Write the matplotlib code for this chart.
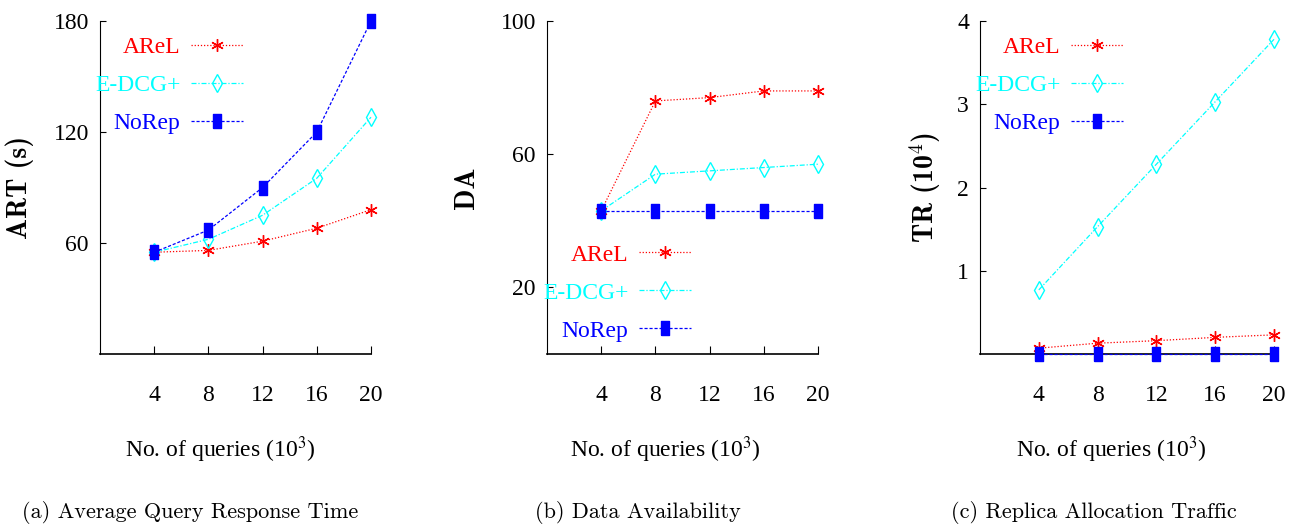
import numpy as np
import matplotlib
matplotlib.use("Agg")
import matplotlib.pyplot as plt

plt.rcParams['mathtext.fontset'] = 'stix'

queries = [4, 8, 12, 16, 20]
series_names = ["AReL", "E-DCG+", "NoRep"]

art_arel = [55, 56, 61, 68, 78]
art_edcg = [55, 62, 75, 95, 128]
art_norep = [55, 67, 90, 120, 180]

da_arel = [43, 76, 77, 79, 79]
da_edcg = [43, 54, 55, 56, 57]
da_norep = [43, 43, 43, 43, 43]

tr_arel = [0.07, 0.13, 0.16, 0.20, 0.23]
tr_edcg = [0.77, 1.53, 2.28, 3.03, 3.78]
tr_norep = [0, 0, 0, 0, 0]

ylabels = ["ART (s)", "DA", "TR (10$^4$)"]
yticks = [[60, 120, 180], [20, 60, 100], [1, 2, 3, 4]]
ylims = [(0, 180), (0, 100), (0, 4)]
captions = ["(a) Average Query Response Time", "(b) Data Availability",
            "(c) Replica Allocation Traffic"]

colors = ["#ff0000", "#00ffff", "#0000ff"]
styles = [(0, (1, 1.5)), (0, (4, 1.5, 1, 1.5)), (0, (2.5, 1.5))]
rect = [(-0.55, -1), (0.55, -1), (0.55, 1), (-0.55, 1), (-0.55, -1)]
markers = [(6, 2, 0), "d", rect]
mfc = ["#ff0000", "none", "#0000ff"]
msizes = [9, 9, 9.5]

W, H = 1297, 525
fig = plt.figure(figsize=(W / 100, H / 100), dpi=100)

# axes boxes in pixels: left, right, top, bottom
boxes = [(100, 371, 21, 354), (547, 818, 21, 354), (980, 1274, 21, 354)]
data = [[art_arel, art_edcg, art_norep],
        [da_arel, da_edcg, da_norep],
        [tr_arel, tr_edcg, tr_norep]]
leg_pos = [(0.528, 0.954, "upper right"), (0.531, 0.037, "lower right"),
           (0.486, 0.954, "upper right")]
xlab_x = [0.443, 0.435, 0.446]
ylab_x = [-0.295, -0.295, -0.187]
cap_x = [190, 638, 1094]

serif = "Liberation Serif"

for i, (l, r, t, b) in enumerate(boxes):
    ax = fig.add_axes([l / W, (H - b) / H, (r - l) / W, (b - t) / H])
    handles = []
    for k in range(3):
        ln, = ax.plot(queries, data[i][k], color=colors[k], ls=styles[k], lw=0.9,
                      marker=markers[k], ms=msizes[k], mfc=mfc[k], mec=colors[k],
                      mew=1.0, clip_on=False, zorder=3 + k * 0.1)
        handles.append(ln)
    ax.set_xlim(0, 20)
    ax.set_ylim(*ylims[i])
    ax.set_xticks(queries)
    ax.set_yticks(yticks[i])
    for s in ["top", "right"]:
        ax.spines[s].set_visible(False)
    ax.spines["left"].set_linewidth(0.8)
    ax.spines["bottom"].set_linewidth(1.2)
    ax.tick_params(axis="x", direction="in", length=6, width=0.8, pad=22,
                   labelsize=17)
    ax.tick_params(axis="y", direction="in", length=4, width=0.8, pad=8,
                   labelsize=17)
    for lab in ax.get_xticklabels() + ax.get_yticklabels():
        lab.set_fontfamily(serif)

    ax.set_xlabel("No. of queries (10$^3$)", fontsize=17, fontfamily=serif)
    ax.xaxis.set_label_coords(xlab_x[i], -0.288)
    ax.xaxis.label.set_va("center")

    ax.set_ylabel(ylabels[i], fontsize=20, fontfamily="cmb10",
                  math_fontfamily="cm")
    ax.yaxis.set_label_coords(ylab_x[i], 0.5)
    ax.yaxis.label.set_va("center")

    lx, ly, loc = leg_pos[i]
    ax.legend(handles, series_names, loc=loc, bbox_to_anchor=(lx, ly),
              frameon=False, markerfirst=False, numpoints=1,
              handlelength=2.2, handletextpad=0.45, labelspacing=0.7,
              borderpad=0, borderaxespad=0,
              prop={"family": serif, "size": 17}, labelcolor="linecolor")

    fig.text(cap_x[i] / W, 1 - 512 / H, captions[i], fontsize=16,
             fontfamily="cmr10", ha="center", va="center")

fig.savefig("out.png", dpi=100)
